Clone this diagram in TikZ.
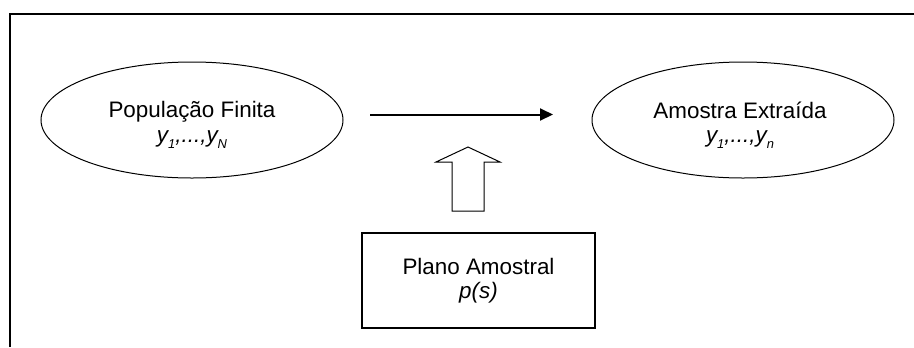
\documentclass[tikz,border=0pt]{standalone}
\usepackage{fontspec}
\setmainfont{Liberation Sans}
\usetikzlibrary{arrows.meta,shapes.geometric}
% lowered, smaller index for the italic variable names
\newcommand{\idx}[1]{\raisebox{-0.25em}{\fontsize{13}{13}\selectfont #1}}

\begin{document}
\begin{tikzpicture}[x=1bp,y=-1bp,
  every node/.style={font=\fontsize{22.5}{25}\selectfont},
  oval/.style={ellipse, draw, line width=1bp, minimum width=302bp, minimum height=116bp, inner sep=0pt},
  lbl/.style={align=center, inner sep=0pt},
  planbox/.style={draw, line width=1.5bp, minimum width=233bp, minimum height=95bp,
    align=center, inner sep=0pt, font=\fontsize{22.5}{24}\selectfont},
  flow/.style={line width=2bp, -{Triangle[length=13bp,width=12bp]}},
  hollow/.style={draw, line width=1bp, fill=white, line join=miter},
]
\useasboundingbox (0,0) rectangle (914,347);

% open frame: top and left edges
\coordinate (frameBL) at (10,347);
\coordinate (frameTL) at (10,14);
\coordinate (frameTR) at (914,14);
\draw[line width=2bp] (frameBL) -- (frameTL) -- (frameTR);

% population and sample
\node[oval] (pop) at (192,120) {};
\node[lbl] (popText) at ([yshift=-5bp]pop.center)
  {População Finita\\ \itshape y\idx{1},...,y\idx{N}};

\node[oval] (samp) at (743,120) {};
\node[lbl] (sampText) at ([xshift=-3bp,yshift=-5bp]samp.center)
  {Amostra Extraída\\ \itshape y\idx{1},...,y\idx{n}};

% sampling step
\coordinate (flowStart) at (370,114.5);
\coordinate (flowEnd) at (553,114.5);
\draw[flow] (flowStart) -- (flowEnd);

% sampling design
\node[planbox] (plan) at (478.5,280.5) {Plano Amostral\\ \itshape p(s)};

% hollow arrow pointing up from the design
\coordinate (tip) at (468,147);
\draw[hollow] (tip) -- ++(32,15) -- ++(-16,0) -- ++(0,49) -- ++(-32,0)
  -- ++(0,-49) -- ++(-16,0) -- cycle;
\end{tikzpicture}
\end{document}
